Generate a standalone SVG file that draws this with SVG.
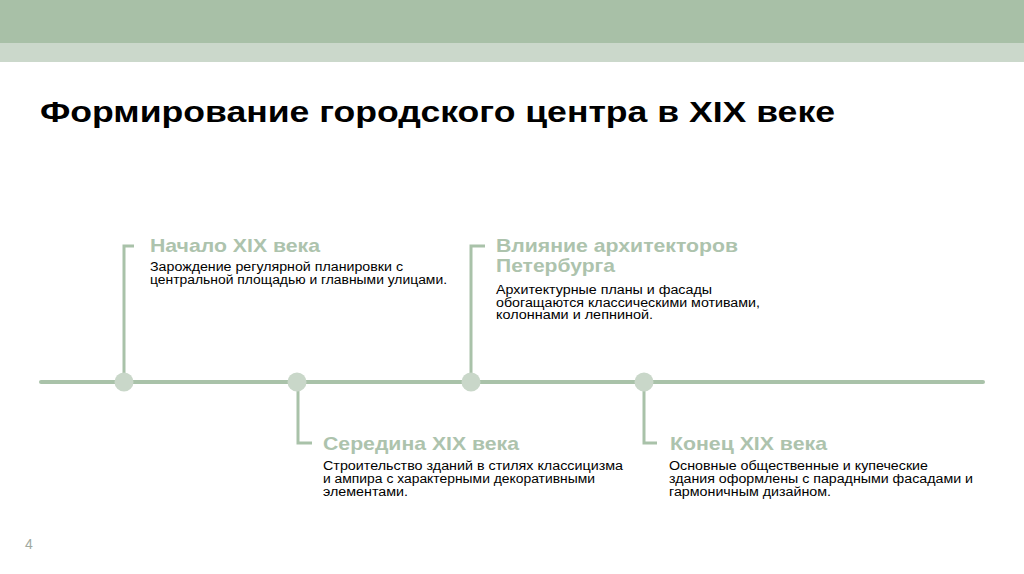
<svg xmlns="http://www.w3.org/2000/svg" width="1024" height="574" viewBox="0 0 1024 574">
<style>
.title{font-family:"Liberation Sans",Arial,sans-serif;font-weight:bold;font-size:29px;fill:#000}
.head{font-family:"Liberation Sans",Arial,sans-serif;font-weight:bold;font-size:19px;fill:#adc3ad}
.body{font-family:"Liberation Sans",Arial,sans-serif;font-size:12.5px;fill:#000}
.stem{fill:none;stroke:#a9c2a9;stroke-width:3}
.dot{fill:#c9d7c9}
.num{font-family:"Liberation Sans",Arial,sans-serif;font-size:14px;fill:#a0a8a0}
</style>
<rect x="0" y="0" width="1024" height="574" fill="#fff"/>
<rect x="0" y="0" width="1024" height="43" fill="#a8c0a7"/>
<rect x="0" y="43" width="1024" height="19" fill="#cbd8cb"/>
<text class="title" x="40" y="122" textLength="795" lengthAdjust="spacingAndGlyphs">Формирование городского центра в XIX веке</text>
<g id="connectors">
<line x1="41" y1="382" x2="983" y2="382" stroke="#a9c2a9" stroke-width="4" stroke-linecap="round"/>
<polyline class="stem" points="124,382 124,246 134,246"/>
<polyline class="stem" points="471,382 471,246 485,246"/>
<polyline class="stem" points="298,382 298,443 312,443"/>
<polyline class="stem" points="644,382 644,443 657,443"/>
</g>
<g id="node1">
<circle class="dot" cx="124" cy="382" r="9.5"/>
<text class="head" x="150" y="252" textLength="170" lengthAdjust="spacingAndGlyphs">Начало XIX века</text>
<text class="body" x="150" y="271" textLength="253" lengthAdjust="spacingAndGlyphs">Зарождение регулярной планировки с</text>
<text class="body" x="150" y="283.5" textLength="297" lengthAdjust="spacingAndGlyphs">центральной площадью и главными улицами.</text>
</g>
<g id="node2">
<circle class="dot" cx="297" cy="382" r="9.5"/>
<text class="head" x="323" y="450" textLength="196" lengthAdjust="spacingAndGlyphs">Середина XIX века</text>
<text class="body" x="323" y="470" textLength="300" lengthAdjust="spacingAndGlyphs">Строительство зданий в стилях классицизма</text>
<text class="body" x="323" y="483" textLength="272" lengthAdjust="spacingAndGlyphs">и ампира с характерными декоративными</text>
<text class="body" x="323" y="495.5" textLength="85" lengthAdjust="spacingAndGlyphs">элементами.</text>
</g>
<g id="node3">
<circle class="dot" cx="471" cy="382" r="9.5"/>
<text class="head" x="496" y="252" textLength="242" lengthAdjust="spacingAndGlyphs">Влияние архитекторов</text>
<text class="head" x="496" y="272" textLength="119" lengthAdjust="spacingAndGlyphs">Петербурга</text>
<text class="body" x="496" y="294" textLength="216" lengthAdjust="spacingAndGlyphs">Архитектурные планы и фасады</text>
<text class="body" x="496" y="306.5" textLength="264" lengthAdjust="spacingAndGlyphs">обогащаются классическими мотивами,</text>
<text class="body" x="496" y="319" textLength="157" lengthAdjust="spacingAndGlyphs">колоннами и лепниной.</text>
</g>
<g id="node4">
<circle class="dot" cx="644" cy="382" r="9.5"/>
<text class="head" x="670" y="450" textLength="157" lengthAdjust="spacingAndGlyphs">Конец XIX века</text>
<text class="body" x="669" y="470" textLength="259" lengthAdjust="spacingAndGlyphs">Основные общественные и купеческие</text>
<text class="body" x="669" y="483" textLength="304" lengthAdjust="spacingAndGlyphs">здания оформлены с парадными фасадами и</text>
<text class="body" x="669" y="495.5" textLength="162" lengthAdjust="spacingAndGlyphs">гармоничным дизайном.</text>
</g>
<text class="num" x="25" y="549">4</text>
</svg>
